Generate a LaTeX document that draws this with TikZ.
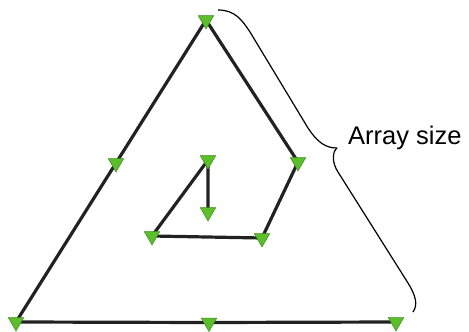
\documentclass[tikz,border=0pt]{standalone}
\usepackage{fontspec}
\setmainfont{Liberation Sans}
\usetikzlibrary{shapes.geometric}
\definecolor{linegray}{RGB}{34,34,34}
\definecolor{markgreen}{RGB}{92,190,42}
\definecolor{markedge}{RGB}{60,140,30}
\tikzset{
  spiral/.style={draw=linegray, line width=3.2pt},
  tri/.style={regular polygon, regular polygon sides=3, shape border rotate=180,
    minimum size=18pt, inner sep=0pt, fill=markgreen, draw=markedge, line width=0.5pt},
  bracel/.style={draw=black, line width=1.2pt},
  lbl/.style={font=\fontsize{25.5}{30}\selectfont, inner sep=0pt, anchor=base west}
}
\begin{document}
\begin{tikzpicture}[x=1pt,y=-1pt]
\useasboundingbox (0,0) rectangle (469,332);
% vertices of the spiral
\coordinate (p1) at (396,322);
\coordinate (p2) at (209,322.5);
\coordinate (p3) at (16,322);
\coordinate (p4) at (116,163);
\coordinate (p5) at (206,20);
\coordinate (p6) at (298,162);
\coordinate (p7) at (262,238);
\coordinate (p8) at (152,236);
\coordinate (p9) at (208,160);
\coordinate (p10) at (208,212);
\draw[spiral] (p1) -- (p2) -- (p3) -- (p4) -- (p5) -- (p6) -- (p7) -- (p8) -- (p9) -- (p10);
\foreach \i in {1,...,10} { \node[tri] (m\i) at (p\i) {}; }
% brace
\coordinate (bs) at (218,10);
\coordinate (bt) at (337,148);
\coordinate (be) at (413,312);
\draw[bracel] (bs) .. controls (235,10) and (242,20) .. (250,32) -- (308,128)
  .. controls (318,143) and (326,148) .. (bt);
\draw[bracel] (bt) .. controls (332,152) and (332,163) .. (338,172) -- (408,283)
  .. controls (416,296) and (418,305) .. (be);
\node[lbl] (label) at (348,144) {Array size};
\end{tikzpicture}
\end{document}
